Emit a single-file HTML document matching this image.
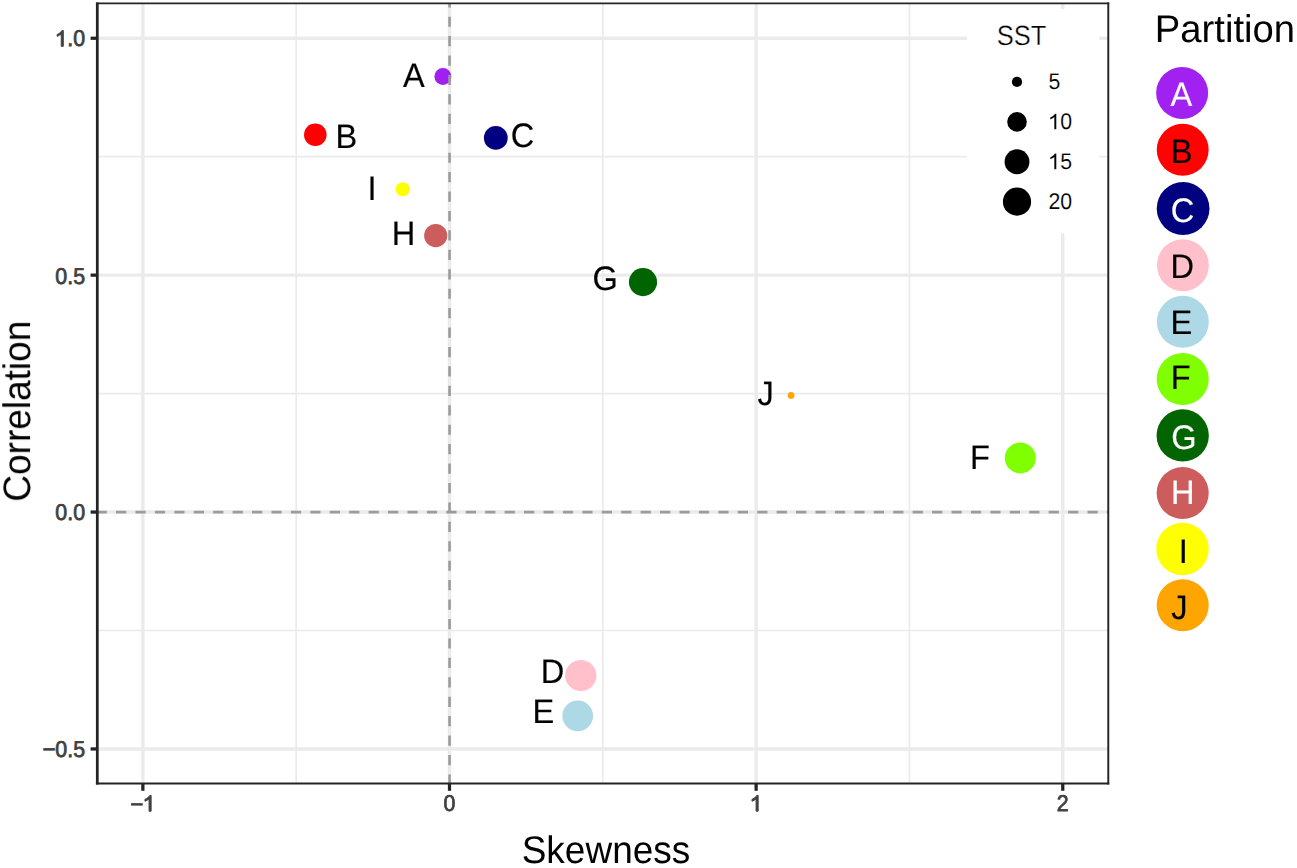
<!DOCTYPE html><html><head><meta charset="utf-8"><title>chart</title><style>html,body{margin:0;padding:0;background:#fff}svg{display:block}text{font-family:"Liberation Sans",sans-serif;text-rendering:geometricPrecision}</style></head><body>
<svg width="1297" height="868" viewBox="0 0 1297 868">
<rect x="0" y="0" width="1297" height="868" fill="#fff"/>
<g stroke="#ebebeb" stroke-width="1.7" fill="none">
<line x1="296.19" y1="3.1" x2="296.19" y2="783.75"/>
<line x1="602.82" y1="3.1" x2="602.82" y2="783.75"/>
<line x1="909.44" y1="3.1" x2="909.44" y2="783.75"/>
<line x1="97.4" y1="156.70" x2="1108.0" y2="156.70"/>
<line x1="97.4" y1="393.60" x2="1108.0" y2="393.60"/>
<line x1="97.4" y1="630.50" x2="1108.0" y2="630.50"/>
</g>
<g stroke="#ebebeb" stroke-width="3.4" fill="none">
<line x1="142.87" y1="3.1" x2="142.87" y2="783.75"/>
<line x1="449.50" y1="3.1" x2="449.50" y2="783.75"/>
<line x1="756.13" y1="3.1" x2="756.13" y2="783.75"/>
<line x1="1062.76" y1="3.1" x2="1062.76" y2="783.75"/>
<line x1="97.4" y1="38.25" x2="1108.0" y2="38.25"/>
<line x1="97.4" y1="275.15" x2="1108.0" y2="275.15"/>
<line x1="97.4" y1="512.05" x2="1108.0" y2="512.05"/>
<line x1="97.4" y1="748.95" x2="1108.0" y2="748.95"/>
</g>
<circle cx="442.9" cy="76.6" r="8.50" fill="#a020f0"/>
<circle cx="315.3" cy="134.8" r="11.30" fill="#ff0000"/>
<circle cx="495.8" cy="137.95" r="11.90" fill="#000080"/>
<circle cx="402.7" cy="189.2" r="7.05" fill="#ffff00"/>
<circle cx="435.7" cy="235.6" r="11.60" fill="#cd5c5c"/>
<circle cx="643.0" cy="282.1" r="14.10" fill="#006400"/>
<circle cx="791.1" cy="395.45" r="3.35" fill="#ffa500"/>
<circle cx="1020.3" cy="457.9" r="15.50" fill="#7fff00"/>
<circle cx="580.8" cy="675.5" r="15.60" fill="#ffc0cb"/>
<circle cx="577.7" cy="715.8" r="15.35" fill="#add8e6"/>
<line x1="96.6" y1="512.15" x2="1108.0" y2="512.15" stroke="#9b9b9b" stroke-width="2.6" stroke-dasharray="10.2 9.23"/>
<line x1="449.55" y1="784.6" x2="449.55" y2="3.1" stroke="#9b9b9b" stroke-width="2.6" stroke-dasharray="10.2 9.23"/>
<g opacity="0.995">
<text transform="translate(403.03,86.61) scale(1.0,1.04)" font-size="32.6" fill="#000" stroke="#000" stroke-width="0.15" text-anchor="start">A</text>
<text transform="translate(335.55,148.11) scale(1.0,1.04)" font-size="32.6" fill="#000" stroke="#000" stroke-width="0.15" text-anchor="start">B</text>
<text transform="translate(510.77,146.77) scale(1.0,1.04)" font-size="32.6" fill="#000" stroke="#000" stroke-width="0.15" text-anchor="start">C</text>
<text transform="translate(367.52,199.91) scale(1.0,1.04)" font-size="32.6" fill="#000" stroke="#000" stroke-width="0.15" text-anchor="start">I</text>
<text transform="translate(391.87,244.76) scale(1.0,1.04)" font-size="32.6" fill="#000" stroke="#000" stroke-width="0.15" text-anchor="start">H</text>
<text transform="translate(592.62,290.32) scale(1.0,1.04)" font-size="32.6" fill="#000" stroke="#000" stroke-width="0.15" text-anchor="start">G</text>
<text transform="translate(757.51,404.50) scale(1.0,1.04)" font-size="32.6" fill="#000" stroke="#000" stroke-width="0.15" text-anchor="start">J</text>
<text transform="translate(969.91,468.81) scale(1.0,1.04)" font-size="32.6" fill="#000" stroke="#000" stroke-width="0.15" text-anchor="start">F</text>
<text transform="translate(540.77,682.81) scale(1.0,1.04)" font-size="32.6" fill="#000" stroke="#000" stroke-width="0.15" text-anchor="start">D</text>
<text transform="translate(532.52,723.11) scale(1.0,1.04)" font-size="32.6" fill="#000" stroke="#000" stroke-width="0.15" text-anchor="start">E</text>
</g>
<rect x="967" y="9" width="132.3" height="224.3" fill="#fff"/>
<text transform="translate(996.70,45.35) scale(0.955,1.04)" font-size="26.7" fill="#000" stroke="#fff" stroke-width="0.35" text-anchor="start">SST</text>
<circle cx="1017" cy="81.95" r="5.10" fill="#000"/>
<text transform="translate(1048.40,89.40) scale(0.966,1.03)" font-size="22" fill="#000" stroke="#fff" stroke-width="0.12" text-anchor="start">5</text>
<circle cx="1017" cy="121.85" r="9.80" fill="#000"/>
<path d="M583 0V1147Q518 1085 412 1023Q307 961 223 930V1104Q374 1175 487 1276Q600 1377 647 1472H763V0Z" transform="translate(1047.69,129.30) scale(0.011311,-0.010639)" fill="#000" stroke="#fff" stroke-width="0.12" vector-effect="non-scaling-stroke"/>
<text transform="translate(1060.22,129.30) scale(0.966,1.03)" font-size="22" fill="#000" stroke="#fff" stroke-width="0.12" text-anchor="start">0</text>
<circle cx="1017" cy="161.75" r="12.45" fill="#000"/>
<path d="M583 0V1147Q518 1085 412 1023Q307 961 223 930V1104Q374 1175 487 1276Q600 1377 647 1472H763V0Z" transform="translate(1047.69,169.20) scale(0.011311,-0.010639)" fill="#000" stroke="#fff" stroke-width="0.12" vector-effect="non-scaling-stroke"/>
<text transform="translate(1060.22,169.20) scale(0.966,1.03)" font-size="22" fill="#000" stroke="#fff" stroke-width="0.12" text-anchor="start">5</text>
<circle cx="1017" cy="201.65" r="14.10" fill="#000"/>
<text transform="translate(1048.40,209.10) scale(0.966,1.03)" font-size="22" fill="#000" stroke="#fff" stroke-width="0.12" text-anchor="start">2</text>
<text transform="translate(1060.22,209.10) scale(0.966,1.03)" font-size="22" fill="#000" stroke="#fff" stroke-width="0.12" text-anchor="start">0</text>
<g stroke="#242424" fill="none">
<line x1="97.3" y1="2.45" x2="97.3" y2="784.55" stroke-width="2.75"/>
<line x1="1108.28" y1="2.45" x2="1108.28" y2="784.55" stroke-width="1.95"/>
<line x1="95.92" y1="3.4" x2="1109.25" y2="3.4" stroke-width="1.9"/>
<line x1="95.92" y1="783.55" x2="1109.25" y2="783.55" stroke-width="2.0"/>
</g>
<g stroke="#242424" stroke-width="3.25" fill="none">
<line x1="90.6" y1="38.25" x2="96.5" y2="38.25"/>
<line x1="90.6" y1="275.15" x2="96.5" y2="275.15"/>
<line x1="90.6" y1="512.05" x2="96.5" y2="512.05"/>
<line x1="90.6" y1="748.95" x2="96.5" y2="748.95"/>
<line x1="142.87" y1="784.0" x2="142.87" y2="790.8"/>
<line x1="449.50" y1="784.0" x2="449.50" y2="790.8"/>
<line x1="756.13" y1="784.0" x2="756.13" y2="790.8"/>
<line x1="1062.76" y1="784.0" x2="1062.76" y2="790.8"/>
</g>
<path d="M583 0V1147Q518 1085 412 1023Q307 961 223 930V1104Q374 1175 487 1276Q600 1377 647 1472H763V0Z" transform="translate(54.62,46.35) scale(0.011358,-0.010742)" fill="#404040" stroke="#404040" stroke-width="1.0" vector-effect="non-scaling-stroke"/>
<text transform="translate(67.20,46.35) scale(0.97,1.04)" font-size="22" fill="#404040" stroke="#404040" stroke-width="0.75" text-anchor="start">.</text>
<text transform="translate(73.13,46.35) scale(0.97,1.04)" font-size="22" fill="#404040" stroke="#404040" stroke-width="0.75" text-anchor="start">0</text>
<text transform="translate(55.33,283.65) scale(0.97,1.04)" font-size="22" fill="#404040" stroke="#404040" stroke-width="0.75" text-anchor="start">0</text>
<text transform="translate(67.20,283.65) scale(0.97,1.04)" font-size="22" fill="#404040" stroke="#404040" stroke-width="0.75" text-anchor="start">.</text>
<text transform="translate(73.13,283.65) scale(0.97,1.04)" font-size="22" fill="#404040" stroke="#404040" stroke-width="0.75" text-anchor="start">5</text>
<text transform="translate(55.33,520.05) scale(0.97,1.04)" font-size="22" fill="#404040" stroke="#404040" stroke-width="0.75" text-anchor="start">0</text>
<text transform="translate(67.20,520.05) scale(0.97,1.04)" font-size="22" fill="#404040" stroke="#404040" stroke-width="0.75" text-anchor="start">.</text>
<text transform="translate(73.13,520.05) scale(0.97,1.04)" font-size="22" fill="#404040" stroke="#404040" stroke-width="0.75" text-anchor="start">0</text>
<text transform="translate(42.47,757.20) scale(1.0282,1.04)" font-size="22" fill="#404040" stroke="#404040" stroke-width="0.75" text-anchor="start">−</text>
<text transform="translate(55.33,756.65) scale(0.97,1.04)" font-size="22" fill="#404040" stroke="#404040" stroke-width="0.75" text-anchor="start">0</text>
<text transform="translate(67.20,756.65) scale(0.97,1.04)" font-size="22" fill="#404040" stroke="#404040" stroke-width="0.75" text-anchor="start">.</text>
<text transform="translate(73.13,756.65) scale(0.97,1.04)" font-size="22" fill="#404040" stroke="#404040" stroke-width="0.75" text-anchor="start">5</text>
<text transform="translate(130.30,811.75) scale(1.0282,1.04)" font-size="22" fill="#404040" stroke="#404040" stroke-width="0.75" text-anchor="start">−</text>
<path d="M583 0V1147Q518 1085 412 1023Q307 961 223 930V1104Q374 1175 487 1276Q600 1377 647 1472H763V0Z" transform="translate(142.45,811.20) scale(0.011358,-0.010742)" fill="#404040" stroke="#404040" stroke-width="1.0" vector-effect="non-scaling-stroke"/>
<text transform="translate(443.57,811.20) scale(0.97,1.04)" font-size="22" fill="#404040" stroke="#404040" stroke-width="0.75" text-anchor="start">0</text>
<path d="M583 0V1147Q518 1085 412 1023Q307 961 223 930V1104Q374 1175 487 1276Q600 1377 647 1472H763V0Z" transform="translate(749.48,811.20) scale(0.011358,-0.010742)" fill="#404040" stroke="#404040" stroke-width="1.0" vector-effect="non-scaling-stroke"/>
<text transform="translate(1056.83,811.20) scale(0.97,1.04)" font-size="22" fill="#404040" stroke="#404040" stroke-width="0.75" text-anchor="start">2</text>
<g opacity="0.995">
<text transform="translate(606.00,862.70) scale(1.0,1.04)" font-size="37" fill="#000" stroke="#000" stroke-width="0" text-anchor="middle">Skewness</text>
<text transform="translate(30.40,411.20) rotate(-90) scale(1.0,1.04)" font-size="37" fill="#000" stroke="#000" stroke-width="0" text-anchor="middle">Correlation</text>
<text transform="translate(1154.85,42.00) scale(1.033,1.045)" font-size="37" fill="#000" stroke="#000" stroke-width="0" text-anchor="start">Partition</text>
<circle cx="1182.15" cy="92.9" r="26.00" fill="#a020f0"/>
<text transform="translate(1170.58,105.51) scale(1.0,1.04)" font-size="32.6" fill="#fff" stroke="#fff" stroke-width="0.15" text-anchor="start">A</text>
<circle cx="1182.7" cy="149.8" r="25.95" fill="#ff0000"/>
<text transform="translate(1170.65,163.11) scale(1.0,1.04)" font-size="32.6" fill="#000" stroke="#000" stroke-width="0.15" text-anchor="start">B</text>
<circle cx="1183.1" cy="208.5" r="26.40" fill="#000080"/>
<text transform="translate(1170.85,222.27) scale(1.0,1.04)" font-size="32.6" fill="#fff" stroke="#fff" stroke-width="0.15" text-anchor="start">C</text>
<circle cx="1182.9" cy="265.2" r="25.95" fill="#ffc0cb"/>
<text transform="translate(1170.52,277.91) scale(1.0,1.04)" font-size="32.6" fill="#000" stroke="#000" stroke-width="0.15" text-anchor="start">D</text>
<circle cx="1182.84" cy="321.8" r="25.95" fill="#add8e6"/>
<text transform="translate(1170.49,333.91) scale(1.0,1.04)" font-size="32.6" fill="#000" stroke="#000" stroke-width="0.15" text-anchor="start">E</text>
<circle cx="1182.7" cy="378.97" r="26.05" fill="#7fff00"/>
<text transform="translate(1170.66,389.01) scale(1.0,1.04)" font-size="32.6" fill="#000" stroke="#000" stroke-width="0.15" text-anchor="start">F</text>
<circle cx="1182.7" cy="435.4" r="26.15" fill="#006400"/>
<text transform="translate(1171.22,449.47) scale(1.0,1.04)" font-size="32.6" fill="#fff" stroke="#fff" stroke-width="0.15" text-anchor="start">G</text>
<circle cx="1182.7" cy="493.0" r="26.05" fill="#cd5c5c"/>
<text transform="translate(1170.92,503.99) scale(1.0,1.04)" font-size="32.6" fill="#fff" stroke="#fff" stroke-width="0.15" text-anchor="start">H</text>
<circle cx="1182.5" cy="548.9" r="26.25" fill="#ffff00"/>
<text transform="translate(1178.85,562.91) scale(1.0,1.04)" font-size="32.6" fill="#000" stroke="#000" stroke-width="0.15" text-anchor="start">I</text>
<circle cx="1182.7" cy="605.2" r="26.05" fill="#ffa500"/>
<text transform="translate(1171.33,618.82) scale(1.0,1.04)" font-size="32.6" fill="#000" stroke="#000" stroke-width="0.15" text-anchor="start">J</text>
</g>
</svg></body></html>
